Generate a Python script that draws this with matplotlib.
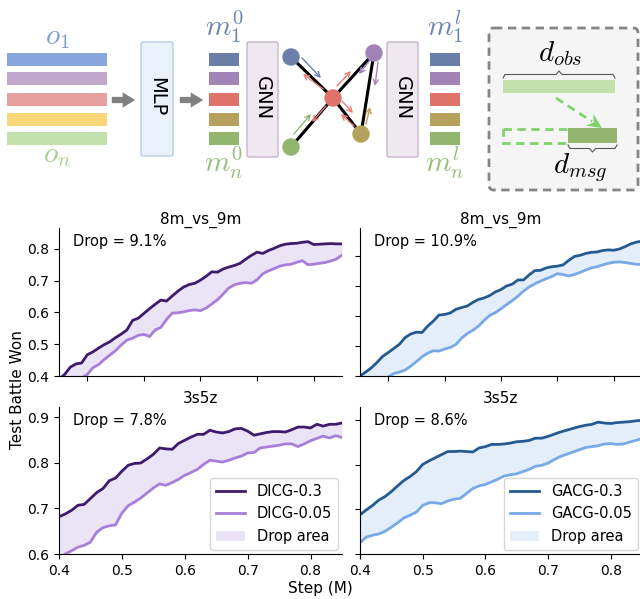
import numpy as np
import matplotlib
matplotlib.use("Agg")
import matplotlib.pyplot as plt
from matplotlib.patches import FancyBboxPatch, Rectangle, Circle, Polygon

plt.rcParams['mathtext.fontset'] = 'cm'
plt.rcParams['font.family'] = 'DejaVu Sans'

# ---- data ----
x_top = np.round(np.arange(0.45, 0.951, 0.01), 2)
x_bot = np.round(np.arange(0.40, 0.851, 0.01), 2)

dicg_hi_8m = [0.390, 0.405, 0.428, 0.438, 0.441, 0.467, 0.476, 0.488, 0.499, 0.508,
              0.521, 0.532, 0.545, 0.575, 0.582, 0.597, 0.612, 0.626, 0.639, 0.636,
              0.652, 0.667, 0.680, 0.688, 0.692, 0.702, 0.714, 0.728, 0.727, 0.737,
              0.743, 0.748, 0.755, 0.768, 0.780, 0.790, 0.786, 0.795, 0.802, 0.810,
              0.815, 0.817, 0.818, 0.821, 0.823, 0.814, 0.815, 0.816, 0.817, 0.816, 0.816]
dicg_lo_8m = [0.360, 0.370, 0.378, 0.386, 0.394, 0.405, 0.426, 0.436, 0.452, 0.466,
              0.480, 0.498, 0.513, 0.519, 0.528, 0.531, 0.524, 0.545, 0.553, 0.578,
              0.598, 0.599, 0.602, 0.606, 0.608, 0.606, 0.614, 0.627, 0.640, 0.658,
              0.677, 0.687, 0.692, 0.694, 0.692, 0.703, 0.722, 0.731, 0.738, 0.746,
              0.750, 0.752, 0.758, 0.763, 0.750, 0.752, 0.755, 0.757, 0.762, 0.768, 0.781]
gacg_hi_8m = [0.400, 0.413, 0.427, 0.445, 0.465, 0.478, 0.492, 0.506, 0.528, 0.540,
              0.546, 0.545, 0.566, 0.583, 0.603, 0.605, 0.610, 0.622, 0.628, 0.633,
              0.645, 0.655, 0.660, 0.668, 0.680, 0.688, 0.700, 0.706, 0.720, 0.720,
              0.737, 0.751, 0.752, 0.760, 0.764, 0.766, 0.770, 0.785, 0.798, 0.802,
              0.808, 0.812, 0.813, 0.818, 0.820, 0.819, 0.823, 0.831, 0.840, 0.846, 0.849]
gacg_lo_8m = [0.355, 0.362, 0.371, 0.380, 0.388, 0.397, 0.408, 0.413, 0.420, 0.433,
              0.448, 0.464, 0.476, 0.484, 0.483, 0.490, 0.495, 0.505, 0.526, 0.541,
              0.552, 0.566, 0.585, 0.602, 0.611, 0.624, 0.638, 0.651, 0.666, 0.683,
              0.697, 0.707, 0.716, 0.724, 0.731, 0.741, 0.738, 0.733, 0.738, 0.745,
              0.753, 0.760, 0.764, 0.770, 0.775, 0.779, 0.780, 0.778, 0.775, 0.772, 0.772]

dicg_hi_3s = [0.682, 0.688, 0.696, 0.707, 0.709, 0.722, 0.735, 0.744, 0.761, 0.767,
              0.782, 0.795, 0.799, 0.800, 0.809, 0.819, 0.833, 0.831, 0.830, 0.843,
              0.850, 0.857, 0.863, 0.863, 0.872, 0.868, 0.866, 0.869, 0.875, 0.876,
              0.870, 0.861, 0.864, 0.867, 0.869, 0.869, 0.868, 0.873, 0.879, 0.879,
              0.877, 0.885, 0.881, 0.885, 0.885, 0.888]
dicg_lo_3s = [0.590, 0.600, 0.607, 0.615, 0.619, 0.626, 0.648, 0.658, 0.662, 0.664,
              0.690, 0.706, 0.714, 0.723, 0.734, 0.745, 0.754, 0.751, 0.757, 0.764,
              0.773, 0.779, 0.786, 0.797, 0.806, 0.804, 0.802, 0.806, 0.811, 0.815,
              0.822, 0.823, 0.833, 0.835, 0.837, 0.839, 0.842, 0.842, 0.836, 0.842,
              0.849, 0.854, 0.859, 0.855, 0.860, 0.856]
gacg_hi_3s = [0.688, 0.699, 0.709, 0.721, 0.729, 0.740, 0.753, 0.765, 0.774, 0.785,
              0.801, 0.809, 0.816, 0.823, 0.830, 0.830, 0.831, 0.830, 0.829, 0.838,
              0.841, 0.846, 0.846, 0.847, 0.849, 0.852, 0.853, 0.855, 0.860, 0.860,
              0.864, 0.869, 0.874, 0.878, 0.882, 0.886, 0.889, 0.891, 0.896, 0.894,
              0.893, 0.895, 0.896, 0.897, 0.899, 0.900]
gacg_lo_3s = [0.625, 0.638, 0.642, 0.645, 0.651, 0.660, 0.670, 0.681, 0.687, 0.694,
              0.709, 0.715, 0.715, 0.713, 0.719, 0.723, 0.725, 0.736, 0.747, 0.753,
              0.756, 0.762, 0.768, 0.775, 0.778, 0.780, 0.785, 0.790, 0.797, 0.799,
              0.804, 0.812, 0.819, 0.824, 0.829, 0.834, 0.839, 0.841, 0.843, 0.847,
              0.848, 0.846, 0.847, 0.851, 0.855, 0.859]

titles = ["8m_vs_9m", "8m_vs_9m", "3s5z", "3s5z"]
drops = ["Drop = 9.1%", "Drop = 10.9%", "Drop = 7.8%", "Drop = 8.6%"]

purple = ('#3d1c6e', '#a67fdb', '#ebe3f6')
blue = ('#255a91', '#76a9e6', '#e3eefa')

fig = plt.figure(figsize=(6.4, 5.99), dpi=100)

# ---- diagram (pixel coordinates) ----
d = fig.add_axes([0, 0, 1, 1])
d.set_xlim(0, 640)
d.set_ylim(599, 0)
d.axis('off')

rows = [53, 72, 93, 113, 132]
o_cols = ['#87a7dc', '#c0a8cd', '#e69f9d', '#f8d77b', '#c3e1ad']
m_cols = ['#6a7fa8', '#a283b6', '#df736a', '#b5a05c', '#93b66f']
for y, c in zip(rows, o_cols):
    d.add_patch(Rectangle((7, y), 100, 13, color=c, lw=0))
for y, c in zip(rows, m_cols):
    d.add_patch(Rectangle((209, y), 30, 13, color=c, lw=0))
    d.add_patch(Rectangle((430, y), 30, 13, color=c, lw=0))

d.text(57, 37, r'$o_1$', color='#7ea0d9', fontsize=21, ha='center', va='center')
d.text(57, 155, r'$o_n$', color='#a5d08a', fontsize=21, ha='center', va='center')
d.text(224, 27, r'$m_1^0$', color='#6a84ad', fontsize=21, ha='center', va='center')
d.text(224, 163, r'$m_n^0$', color='#97bd78', fontsize=21, ha='center', va='center')
d.text(445, 27, r'$m_1^l$', color='#6a84ad', fontsize=21, ha='center', va='center')
d.text(445, 163, r'$m_n^l$', color='#97bd78', fontsize=21, ha='center', va='center')

for x0, x1 in [(109, 138), (177, 206)]:
    d.annotate('', xy=(x1, 100), xytext=(x0, 100),
               arrowprops=dict(arrowstyle='simple,head_length=0.9,head_width=1.1,tail_width=0.45',
                               color='#808080', lw=0))

d.add_patch(FancyBboxPatch((141, 42), 32, 114, boxstyle='round,pad=0,rounding_size=2',
                           fc='#eaf1fb', ec='#b8cce6', lw=1))
d.text(157, 97, 'MLP', rotation=-90, ha='center', va='center', fontsize=14)
for gx in (247, 387):
    d.add_patch(FancyBboxPatch((gx, 42), 31, 115, boxstyle='round,pad=0,rounding_size=2',
                               fc='#efe8f0', ec='#c8b4cc', lw=1))
    d.text(gx + 15.5, 98, 'GNN', rotation=-90, ha='center', va='center', fontsize=14)

nodes = {'b': (291, 57), 'g': (291, 147), 'r': (333, 98), 'p': (374, 53), 'o': (361, 134)}
node_cols = {'b': '#6a80aa', 'g': '#93b66f', 'r': '#df736a', 'p': '#a283b6', 'o': '#b5a05c'}
for a, b in [('b', 'r'), ('g', 'r'), ('r', 'p'), ('r', 'o'), ('p', 'o')]:
    d.plot([nodes[a][0], nodes[b][0]], [nodes[a][1], nodes[b][1]], color='k', lw=2.2, zorder=3)
for k, (nx, ny) in nodes.items():
    d.add_patch(Circle((nx, ny), 8, color=node_cols[k], zorder=4))

msg_arrows = [((302, 58), (321, 78), '#6a80aa'), ((323, 89), (303, 74), '#e57e74'),
              ((337, 86), (351, 71), '#e57e74'), ((294, 134), (311, 114), '#93b66f'),
              ((326, 106), (312, 122), '#e57e74'), ((342, 101), (353, 113), '#e57e74'),
              ((354, 126), (341, 114), '#e57e74'), ((371, 59), (359, 74), '#a283b6'),
              ((378, 62), (375, 86), '#a283b6'), ((366, 124), (370, 107), '#b5a05c')]
for s, e, c in msg_arrows:
    d.annotate('', xy=e, xytext=s, arrowprops=dict(arrowstyle='->', color=c, lw=1,
                                                   mutation_scale=9, shrinkA=0, shrinkB=0),
               zorder=5)

d.add_patch(FancyBboxPatch((489, 28), 149, 162, boxstyle='round,pad=0,rounding_size=5',
                           fc='#f5f5f5', ec='#858585', lw=2, ls=(0, (3, 2))))


def brace(x0, x1, y, h):
    xm = (x0 + x1) / 2
    xs = [x0, x0 + 2, xm - 3, xm, xm + 3, x1 - 2, x1]
    ys = [y, y - h * 0.5, y - h * 0.5, y - h, y - h * 0.5, y - h * 0.5, y]
    d.plot(xs, ys, color='#555555', lw=0.8)


d.add_patch(Rectangle((503, 80), 112, 13, color='#c3e1ad', lw=0))
brace(503, 615, 78, 7)
d.text(560, 54, r'$d_{obs}$', fontsize=21, ha='center', va='center')

# dashed arrow: shaft + notched head
tip = np.array([602.0, 128.0])
start = np.array([556.0, 98.0])
u = (tip - start) / np.linalg.norm(tip - start)
perp = np.array([-u[1], u[0]])
base = tip - 15 * u
d.plot([start[0], base[0] + 3 * u[0]], [start[1], base[1] + 3 * u[1]],
       color='#7fd36b', lw=2, ls=(0, (3, 2)))
d.add_patch(Polygon([tip, base + 7 * perp, tip - 10 * u, base - 7 * perp],
                    closed=True, color='#7fd36b', lw=0))

d.add_patch(Rectangle((503, 129), 66, 14, fill=False, ec='#7fd36b', lw=2, ls=(0, (3, 2))))
d.add_patch(Rectangle((568, 128), 49, 15, color='#93b66f', lw=0))
brace(568, 617, 145, -7)
d.text(580, 168, r'$d_{msg}$', fontsize=21, ha='center', va='center')

# ---- charts ----
lx, rx, cw_l, cw_r = 59 / 640, 360 / 640, 283 / 640, 282 / 640
top_b, top_h = 1 - 376 / 599, 148 / 599
bot_b, bot_h = 1 - 554 / 599, 147 / 599

axs = [fig.add_axes([lx, top_b, cw_l, top_h]), fig.add_axes([rx, top_b, cw_r, top_h]),
       fig.add_axes([lx, bot_b, cw_l, bot_h]), fig.add_axes([rx, bot_b, cw_r, bot_h])]

specs = [
    (x_top, dicg_hi_8m, dicg_lo_8m, purple, 'DICG', (0.45, 0.95), (0.4, 0.866)),
    (x_top, gacg_hi_8m, gacg_lo_8m, blue, 'GACG', (0.45, 0.95), (0.4, 0.893)),
    (x_bot, dicg_hi_3s, dicg_lo_3s, purple, 'DICG', (0.4, 0.85), (0.6, 0.923)),
    (x_bot, gacg_hi_3s, gacg_lo_3s, blue, 'GACG', (0.4, 0.85), (0.6, 0.93)),
]

for i, (ax, (xs, hi, lo, cols, name, xl, yl)) in enumerate(zip(axs, specs)):
    ax.fill_between(xs, lo, hi, color=cols[2], lw=0, label='Drop area')
    ax.plot(xs, hi, color=cols[0], lw=2, label=f'{name}-0.3')
    ax.plot(xs, lo, color=cols[1], lw=2, label=f'{name}-0.05')
    ax.set_xlim(*xl)
    ax.set_ylim(*yl)
    ax.spines['top'].set_visible(False)
    ax.spines['right'].set_visible(False)
    ax.set_title(titles[i], fontsize=11, pad=3)
    ax.text(0.05, 0.96, drops[i], transform=ax.transAxes, fontsize=10.5, va='top')
    ax.tick_params(labelsize=10)
    if i < 2:
        ax.set_xticks([0.5, 0.6, 0.7, 0.8, 0.9])
        ax.set_yticks([0.4, 0.5, 0.6, 0.7, 0.8])
        ax.tick_params(labelbottom=False)
    else:
        ax.set_xticks([0.4, 0.5, 0.6, 0.7, 0.8])
        ax.set_yticks([0.6, 0.7, 0.8, 0.9])
        h, l = ax.get_legend_handles_labels()
        ax.legend([h[1], h[2], h[0]], [l[1], l[2], l[0]], loc='lower right', fontsize=10.5,
                  frameon=True, fancybox=True, edgecolor='#cccccc', borderaxespad=0.3)
    if i % 2 == 1:
        ax.tick_params(labelleft=False)

fig.text(0.028, 1 - 390 / 599, 'Test Battle Won', rotation=90, ha='center', va='center', fontsize=11)
fig.text(0.5, 1 - 589 / 599, 'Step (M)', ha='center', va='center', fontsize=11)

fig.savefig('out.png', dpi=100)
